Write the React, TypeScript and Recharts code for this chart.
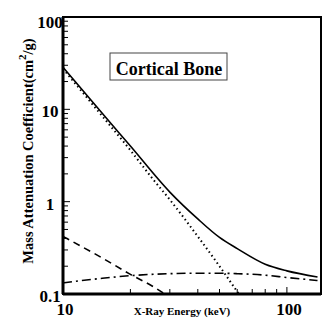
import { LineChart, Line, XAxis, YAxis, ReferenceArea } from 'recharts';

const totalEnergies = [10, 15, 20, 30, 40, 50, 60, 80, 100, 137];
const totalValues = [28.6, 9.0, 4.0, 1.27, 0.65, 0.41, 0.31, 0.21, 0.178, 0.153];

const photoEnergies = [10, 15, 20, 25, 30, 40, 50, 61];
const photoValues = [27.5, 8.4, 3.6, 1.8, 1.05, 0.42, 0.2, 0.1];

const coherentEnergies = [10, 15, 20, 25, 28.5];
const coherentValues = [0.42, 0.245, 0.163, 0.122, 0.1];

const comptonEnergies = [10, 15, 20, 30, 40, 50, 60, 80, 100, 137];
const comptonValues = [0.132, 0.148, 0.158, 0.166, 0.168, 0.168, 0.166, 0.16, 0.151, 0.14];

const xTicks = [10, 20, 30, 40, 50, 60, 70, 80, 90, 100];
const xLabels = [10, 100];
const yTicks = [
  0.1, 0.2, 0.3, 0.4, 0.5, 0.6, 0.7, 0.8, 0.9,
  1, 2, 3, 4, 5, 6, 7, 8, 9,
  10, 20, 30, 40, 50, 60, 70, 80, 90, 100,
];
const yLabels = [0.1, 1, 10, 100];

const toRows = (xs: number[], ys: number[]) => xs.map((e, i) => ({ energy: e, value: ys[i] }));

const serifBold = { fontFamily: "'Liberation Serif', serif", fontWeight: 700 };

const XTick = (props: any) => {
  const { x, y, payload } = props;
  const major = xLabels.includes(payload.value);
  return (
    <g>
      <line x1={x} y1={y} x2={x} y2={y - (major ? 7 : 5)} stroke="#000" strokeWidth={1} />
      {major && (
        <text x={x + 2} y={y + 21} textAnchor="middle" style={{ ...serifBold, fontSize: 17 }} fill="#000">
          {payload.value}
        </text>
      )}
    </g>
  );
};

const YTick = (props: any) => {
  const { x, y, payload } = props;
  const major = yLabels.includes(payload.value);
  return (
    <g>
      <line x1={x} y1={y} x2={x + (major ? 7 : 5)} y2={y} stroke="#000" strokeWidth={1} />
      {major && (
        <text x={x - 13} y={y + (payload.value === 100 ? 11 : 8)} textAnchor="middle" style={{ ...serifBold, fontSize: 17 }} fill="#000">
          {payload.value}
        </text>
      )}
    </g>
  );
};

export default function App() {
  return (
    <div style={{ position: 'absolute', left: 0, top: 0, background: '#fff' }}>
      <LineChart width={330} height={321} margin={{ top: 17, right: 9, left: 8, bottom: 0 }}>
        <XAxis
          dataKey="energy"
          type="number"
          scale="log"
          domain={[10, 142]}
          allowDataOverflow
          ticks={xTicks}
          interval={0}
          tickSize={0}
          tickMargin={0}
          height={27}
          tick={<XTick />}
          axisLine={{ stroke: '#000', strokeWidth: 3 }}
          tickLine={false}
        />
        <YAxis
          dataKey="value"
          type="number"
          scale="log"
          domain={[0.1, 100]}
          allowDataOverflow
          ticks={yTicks}
          interval={0}
          tickSize={0}
          tickMargin={0}
          width={55}
          tick={<YTick />}
          axisLine={{ stroke: '#000', strokeWidth: 3 }}
          tickLine={false}
        />
        <ReferenceArea x1={10} x2={142} y1={0.1} y2={100} fill="none" stroke="#000" strokeWidth={2} />
        <Line data={toRows(totalEnergies, totalValues)} dataKey="value" type="monotone" stroke="#000" strokeWidth={1.6} dot={false} isAnimationActive={false} />
        <Line data={toRows(photoEnergies, photoValues)} dataKey="value" type="monotone" stroke="#000" strokeWidth={2} strokeDasharray="1.5 3" dot={false} isAnimationActive={false} />
        <Line data={toRows(coherentEnergies, coherentValues)} dataKey="value" type="monotone" stroke="#000" strokeWidth={1.6} strokeDasharray="7 5" dot={false} isAnimationActive={false} />
        <Line data={toRows(comptonEnergies, comptonValues)} dataKey="value" type="monotone" stroke="#000" strokeWidth={1.6} strokeDasharray="9 4 2 4" dot={false} isAnimationActive={false} />
        <rect x={110} y={53} width={117} height={27} fill="#fff" stroke="#444" strokeWidth={1} />
        <text x={169} y={75} textAnchor="middle" style={{ ...serifBold, fontSize: 18 }} fill="#000">
          Cortical Bone
        </text>
        <text x={182} y={315} textAnchor="middle" style={{ ...serifBold, fontSize: 11 }} fill="#000">
          X-Ray Energy (keV)
        </text>
        <text x={33} y={151} transform="rotate(-90 33 151)" textAnchor="middle" style={{ ...serifBold, fontSize: 14.5 }} fill="#000">
          Mass Attenuation Coefficient(cm<tspan dy={-7} style={{ fontSize: 11 }}>2</tspan><tspan dy={7}>/g)</tspan>
        </text>
      </LineChart>
    </div>
  );
}
